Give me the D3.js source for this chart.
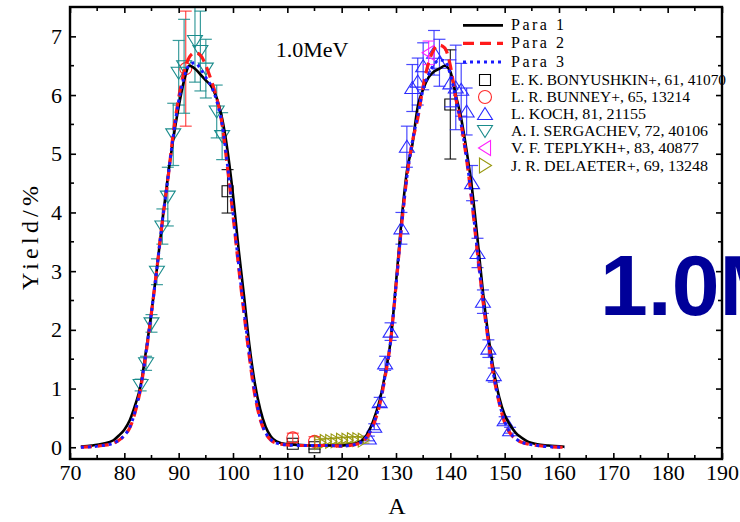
<!DOCTYPE html>
<html><head><meta charset="utf-8">
<script src="https://cdn.jsdelivr.net/npm/d3@7/dist/d3.min.js"></script>
<style>
html,body{margin:0;padding:0;background:#fff;}
svg{display:block;}
text{font-family:"Liberation Serif","DejaVu Serif",serif;}
</style></head>
<body>
<svg id="c" width="740" height="522"></svg>
<script>
// ---- data ----
const paraA = [72,74,76,78,79,80,81,82,83,84,85,86,87,88,89,90,91,92,93,94,95,96,97,98,99,100,101,102,103,104,105,106,107,108,110,112,114,116,118,120,122,123,124,125,126,127,128,129,130,131,132,133,134,135,136,137,138,139,140,141,142,143,144,145,146,147,148,149,150,151,152,153,154,156,158,161];
const para1 = [0.01,0.03,0.06,0.12,0.2,0.3,0.46,0.72,1.05,1.65,2.3,3.05,3.85,4.6,5.25,5.8,6.25,6.5,6.45,6.35,6.25,6.15,5.95,5.6,5.05,4.3,3.4,2.6,1.75,1.1,0.65,0.35,0.18,0.1,0.05,0.04,0.03,0.03,0.03,0.03,0.05,0.08,0.14,0.27,0.5,0.8,1.25,1.8,2.8,3.85,4.7,5.15,5.8,6.1,6.3,6.4,6.45,6.5,6.4,6.0,5.6,5.05,4.4,3.55,2.65,1.9,1.3,0.85,0.55,0.38,0.25,0.17,0.11,0.05,0.03,0.01];
const para2 = [0.0,0.01,0.03,0.07,0.12,0.2,0.33,0.6,1.0,1.6,2.3,3.05,3.85,4.55,5.35,5.95,6.4,6.65,6.72,6.68,6.5,6.25,5.95,5.5,4.75,3.95,3.1,2.3,1.55,0.9,0.48,0.24,0.12,0.07,0.04,0.03,0.03,0.03,0.03,0.02,0.04,0.06,0.11,0.22,0.42,0.72,1.2,1.8,2.75,3.75,4.6,5.2,5.6,6.15,6.55,6.78,6.85,6.8,6.5,5.95,5.5,4.9,4.15,3.3,2.5,1.8,1.2,0.75,0.42,0.24,0.14,0.09,0.06,0.03,0.01,0.0];
const para3 = [0.0,0.01,0.03,0.07,0.12,0.2,0.34,0.62,1.02,1.62,2.3,3.05,3.85,4.57,5.3,5.9,6.3,6.52,6.55,6.45,6.3,6.15,5.9,5.5,4.8,4.0,3.15,2.35,1.6,0.95,0.5,0.25,0.13,0.07,0.04,0.03,0.03,0.03,0.03,0.02,0.04,0.06,0.12,0.23,0.44,0.74,1.22,1.8,2.75,3.75,4.6,5.2,5.65,6.1,6.35,6.52,6.6,6.58,6.35,5.95,5.5,4.92,4.18,3.32,2.52,1.82,1.22,0.77,0.44,0.25,0.15,0.09,0.06,0.03,0.01,0.0];

const bonyA = [99,111,115,140];
const bonyY = [4.36,0.06,0.0,5.84];
const bonyE = [0.37,0.03,0.03,0.93];

const bunnA = [91.3,111,115];
const bunnY = [6.45,0.16,0.1];
const bunnE = [0.98,0.08,0.08];

const kochA = [125,126,127,128,129,131,132,133,134,135,137,138,140,141,142,143,144,145,146,147,148,150,151];
const kochY = [0.15,0.35,0.77,1.43,1.97,3.73,5.12,6.12,6.23,6.49,6.72,6.55,6.2,6.13,6.09,5.72,4.5,3.31,2.48,1.68,1.23,0.46,0.29];
const kochE = [0.04,0.05,0.08,0.12,0.15,0.27,0.35,0.4,0.4,0.4,0.38,0.4,0.4,0.72,0.45,0.4,0.3,0.25,0.2,0.15,0.12,0.06,0.05];

const sergA = [83,84,85,86,87,88,89,90,91,93,94,95,97,98];
const sergY = [1.06,1.43,2.11,2.99,3.76,4.27,5.33,6.38,6.49,6.92,6.75,6.45,5.72,5.3];
const sergE = [0.1,0.12,0.15,0.22,0.3,0.5,0.53,0.55,0.8,0.7,0.68,0.5,0.45,0.4];

const tepA = [136];
const tepY = [6.72];
const tepE = [0.2];

const delA = [116,117,118,119,120,121,122,123,124];
const delY = [0.08,0.1,0.1,0.11,0.12,0.12,0.13,0.13,0.12];
const delE = [0.05,0.05,0.05,0.05,0.05,0.05,0.05,0.05,0.05];

const xTicks = [70,80,90,100,110,120,130,140,150,160,170,180,190];
const yTicks = [0,1,2,3,4,5,6,7];

const lineNames = ["Para 1","Para 2","Para 3"];
const pointNames = ["E. K. BONYUSHKIN+, 61, 41070","L. R. BUNNEY+, 65, 13214","L. KOCH, 81, 21155","A. I. SERGACHEV, 72, 40106","V. F. TEPLYKH+, 83, 40877","J. R. DELAETER+, 69, 13248"];

// ---- drawing ----
const svg = d3.select("#c");
const L=70,R=722,T=7,B=459;
const x = d3.scaleLinear().domain([70,190]).range([L,R]);
const y = d3.scaleLinear().domain([-0.2,7.5]).range([B,T]);

svg.append("defs").append("clipPath").attr("id","clip")
  .append("rect").attr("x",L).attr("y",T).attr("width",R-L).attr("height",B-T);

svg.append("text").attr("x",600).attr("y",315)
  .style("font-family","'Liberation Sans',Arial,sans-serif")
  .style("font-weight","bold").style("font-size","86px").attr("fill","#000099")
  .text("1.0MeV");

const plot = svg.append("g").attr("clip-path","url(#clip)");

function markerPath(type, s){
  const h = s/2;
  switch(type){
    case "square": return `M${-h},${-h}H${h}V${h}H${-h}Z`;
    case "up": return `M0,${-h*1.0}L${h*1.15},${h*0.85}L${-h*1.15},${h*0.85}Z`;
    case "down": return `M0,${h*1.0}L${h*1.15},${-h*0.85}L${-h*1.15},${-h*0.85}Z`;
    case "left": return `M${-h*1.0},0L${h*0.85},${-h*1.15}L${h*0.85},${h*1.15}Z`;
    case "right": return `M${h*1.0},0L${-h*0.85},${-h*1.15}L${-h*0.85},${h*1.15}Z`;
  }
  return "";
}

const sets = [
  {A:bonyA,Y:bonyY,E:bonyE,type:"square",color:"#000000",size:11},
  {A:bunnA,Y:bunnY,E:bunnE,type:"circle",color:"#ff2a2a",size:12},
  {A:kochA,Y:kochY,E:kochE,type:"up",color:"#2a2aff",size:13},
  {A:sergA,Y:sergY,E:sergE,type:"down",color:"#1a8c8c",size:13},
  {A:tepA,Y:tepY,E:tepE,type:"left",color:"#ff22ff",size:13},
  {A:delA,Y:delY,E:delE,type:"right",color:"#999911",size:12}
];

const curveDefs = [
  {Y:para1,color:"#000",w:2.6,dash:null},
  {Y:para2,color:"#ff1a1a",w:3.2,dash:"11,6"},
  {Y:para3,color:"#1a1aff",w:3,dash:"3,4"}
];

sets.forEach(s=>{
  const g = plot.append("g");
  s.A.forEach((a,i)=>{
    const cx=x(a), y1=y(s.Y[i]+s.E[i]), y0=y(s.Y[i]-s.E[i]);
    g.append("line").attr("x1",cx).attr("x2",cx).attr("y1",y1).attr("y2",y0).attr("stroke",s.color).attr("stroke-width",1.2).attr("opacity",0.85);
    [y1,y0].forEach(yy=>g.append("line").attr("x1",cx-6).attr("x2",cx+6).attr("y1",yy).attr("y2",yy).attr("stroke",s.color).attr("stroke-width",1.2).attr("opacity",0.85));
    if(s.type==="circle"){
      g.append("circle").attr("cx",cx).attr("cy",y(s.Y[i])).attr("r",s.size/2).attr("fill","none").attr("stroke",s.color).attr("stroke-width",1.1);
    } else {
      g.append("path").attr("transform",`translate(${cx},${y(s.Y[i])})`).attr("d",markerPath(s.type,s.size)).attr("fill","none").attr("stroke",s.color).attr("stroke-width",1.1);
    }
  });
});

curveDefs.forEach(c=>{
  const ln = d3.line().x((d,i)=>x(paraA[i])).y(d=>y(d)).curve(d3.curveMonotoneX);
  plot.append("path").datum(c.Y).attr("d",ln).attr("fill","none").attr("stroke",c.color)
    .attr("stroke-width",c.w).attr("stroke-dasharray",c.dash);
});

const fs = "22px";
const xAx = svg.append("g").attr("transform",`translate(0,${B})`)
  .call(d3.axisBottom(x).tickValues(xTicks).tickSize(-6).tickPadding(5).tickFormat(d3.format("d")));
const xAxTop = svg.append("g").attr("transform",`translate(0,${T})`)
  .call(d3.axisTop(x).tickValues(xTicks).tickSize(-6).tickFormat(""));
const yAx = svg.append("g").attr("transform",`translate(${L},0)`)
  .call(d3.axisLeft(y).tickValues(yTicks).tickSize(-6).tickPadding(8).tickFormat(d3.format("d")));
const yAxR = svg.append("g").attr("transform",`translate(${R},0)`)
  .call(d3.axisRight(y).tickValues(yTicks).tickSize(-6).tickFormat(""));
[xAx,xAxTop,yAx,yAxR].forEach(g=>{
  g.select(".domain").remove();
  g.selectAll(".tick line").attr("stroke","#000").attr("stroke-width",1.6);
  g.selectAll(".tick text").style("font-size",fs).style("font-family","'Liberation Serif',serif").attr("fill","#000");
});
const xMinor = d3.range(75,190,10);
const yMinor = d3.range(0.5,7.5,1);
xMinor.forEach(v=>{
  svg.append("line").attr("x1",x(v)).attr("x2",x(v)).attr("y1",B).attr("y2",B-4).attr("stroke","#000").attr("stroke-width",1.6);
  svg.append("line").attr("x1",x(v)).attr("x2",x(v)).attr("y1",T).attr("y2",T+4).attr("stroke","#000").attr("stroke-width",1.6);
});
yMinor.forEach(v=>{
  svg.append("line").attr("x1",L).attr("x2",L+4).attr("y1",y(v)).attr("y2",y(v)).attr("stroke","#000").attr("stroke-width",1.6);
  svg.append("line").attr("x1",R).attr("x2",R-4).attr("y1",y(v)).attr("y2",y(v)).attr("stroke","#000").attr("stroke-width",1.6);
});
svg.append("rect").attr("x",L).attr("y",T).attr("width",R-L).attr("height",B-T)
  .attr("fill","none").attr("stroke","#000").attr("stroke-width",2.4);

svg.append("text").attr("transform","translate(38,238) rotate(-90)").attr("text-anchor","middle")
  .attr("textLength",104).attr("lengthAdjust","spacing")
  .style("font-size","24px").text("Yield/%");
svg.append("text").attr("x",397).attr("y",514).attr("text-anchor","middle").style("font-size","24px").text("A");
svg.append("text").attr("x",312).attr("y",57).attr("text-anchor","middle").style("font-size","22px").text("1.0MeV");

const lg = svg.append("g");
const lineRows=[25.4,43.4,61.9];
curveDefs.forEach((c,i)=>{
  lg.append("line").attr("x1",463).attr("x2",503).attr("y1",lineRows[i]).attr("y2",lineRows[i])
    .attr("stroke",c.color).attr("stroke-width",c.w).attr("stroke-dasharray",c.dash);
  lg.append("text").attr("x",511).attr("y",lineRows[i]+5).style("font-size","16px")
    .attr("textLength",53).attr("lengthAdjust","spacing").text(lineNames[i]);
});
const ptRows=[80,97,114,131,148,165.5];
const ptLens=[215,179,135,197,188,197];
sets.forEach((s,i)=>{
  const yy=ptRows[i];
  if(s.type==="circle") lg.append("circle").attr("cx",485).attr("cy",yy).attr("r",6.5).attr("fill","none").attr("stroke",s.color).attr("stroke-width",1.1);
  else lg.append("path").attr("transform",`translate(485,${yy})`).attr("d",markerPath(s.type,s.type==="square"?11:13)).attr("fill","none").attr("stroke",s.color).attr("stroke-width",1.1);
  lg.append("text").attr("x",511).attr("y",yy+5).style("font-size","15px")
    .attr("textLength",ptLens[i]).attr("lengthAdjust","spacingAndGlyphs").text(pointNames[i]);
});
</script>
</body></html>
